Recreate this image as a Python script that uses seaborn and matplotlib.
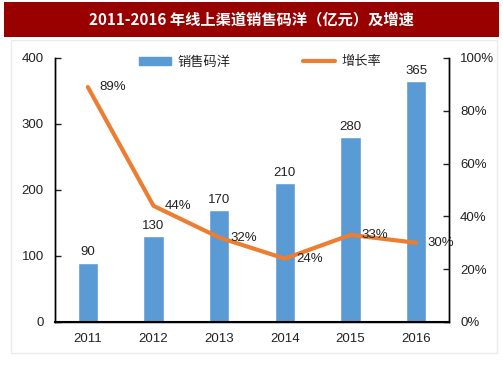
import numpy as np
import pandas as pd
import matplotlib
matplotlib.use("Agg")
import matplotlib.pyplot as plt
import seaborn as sns
from matplotlib.patches import Rectangle
from matplotlib.lines import Line2D
from matplotlib.ticker import PercentFormatter

years = ["2011", "2012", "2013", "2014", "2015", "2016"]
sales = [90, 130, 170, 210, 280, 365]
growth = [89, 44, 32, 24, 33, 30]

df = pd.DataFrame({"year": years, "sales": sales, "growth": growth})

sns.set_style("white")
plt.rcParams["font.family"] = ["Liberation Sans", "Noto Sans CJK SC", "DejaVu Sans"]

bar_color = "#5B9BD5"
line_color = "#ED7D31"

fig = plt.figure(figsize=(5.03, 3.78), dpi=100)
# light frame and title banner
fig.patches.append(Rectangle((11 / 503, 1 - 353 / 378), 486 / 503, 313 / 378,
                             transform=fig.transFigure, fill=False,
                             edgecolor="#EBEBEB", lw=1, zorder=0))
fig.patches.append(Rectangle((4 / 503, 1 - 37 / 378), 495 / 503, 35 / 378,
                             transform=fig.transFigure, facecolor="#990000",
                             edgecolor="none", zorder=1))
fig.text(251 / 503, 1 - 19 / 378, "2011-2016 年线上渠道销售码洋（亿元）及增速",
         ha="center", va="center", color="white", fontsize=11, fontweight="bold",
         family=["Noto Sans CJK SC", "DejaVu Sans"])

ax = fig.add_axes([55 / 503, 1 - 322 / 378, 394 / 503, 264 / 378])
sns.barplot(data=df, x="year", y="sales", color=bar_color, width=0.31,
            saturation=1, ax=ax)
ax.set_ylim(0, 400)
ax.set_yticks([0, 100, 200, 300, 400])
ax.set_xlabel("")
ax.set_ylabel("")
ax.bar_label(ax.containers[0], padding=3, fontsize=9.5, color="#222222")

ax2 = ax.twinx()
sns.lineplot(x=np.arange(len(years)), y=df["growth"], color=line_color, lw=3,
             ax=ax2)
ax2.set_ylim(0, 100)
ax2.set_yticks([0, 20, 40, 60, 80, 100])
ax2.yaxis.set_major_formatter(PercentFormatter(decimals=0))
ax2.set_ylabel("")
for i, g in enumerate(growth):
    ax2.annotate(f"{g}%", (i, g), xytext=(8, 0), textcoords="offset points",
                 ha="left", va="center", fontsize=9.5, color="#222222")

for a in (ax, ax2):
    a.spines["top"].set_visible(False)
    for s in ("left", "right", "bottom"):
        a.spines[s].set_visible(True)
    for s in a.spines.values():
        s.set_color("#000000")
        s.set_linewidth(1)
    a.tick_params(labelsize=9.5, colors="#222222", direction="in", length=4,
                  width=1)
ax.spines["bottom"].set_linewidth(1.5)
ax.tick_params(axis="x", pad=8)
ax.tick_params(axis="y", pad=8)
ax2.tick_params(axis="y", pad=8)
ax.set_xlim(-0.5, len(years) - 0.5)

handles = [Rectangle((0, 0), 1, 1, color=bar_color),
           Line2D([0], [0], color=line_color, lw=3)]
fig.legend(handles, ["销售码洋", "增长率"], loc="center",
           bbox_to_anchor=(260 / 503, 1 - 62 / 378), ncol=2, frameon=False,
           handlelength=2.4, handleheight=0.5, handletextpad=0.5,
           columnspacing=5.5,
           prop={"family": ["Noto Sans CJK SC", "DejaVu Sans"], "size": 9.5})

fig.savefig("out.png", dpi=100)
